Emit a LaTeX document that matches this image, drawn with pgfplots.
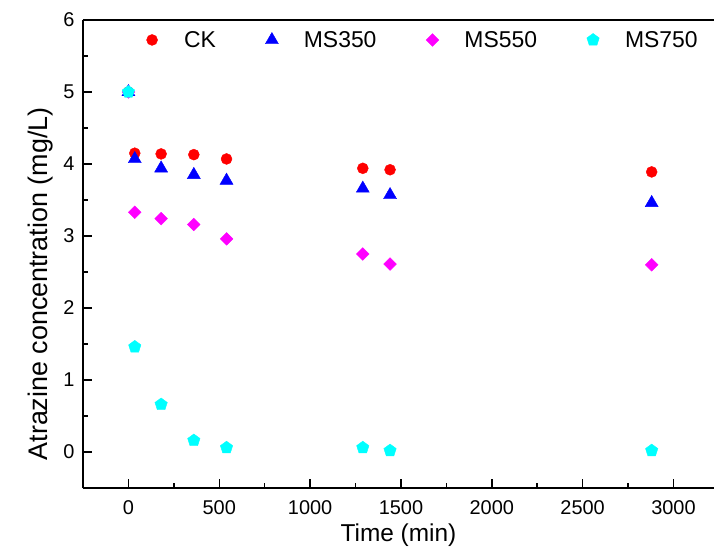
\documentclass[border=0pt]{standalone}
\usepackage{pgfplots}
\pgfplotsset{compat=1.18}
\usepackage{pgfplotstable}
\usepackage{fontspec}
\setmainfont{Liberation Sans}
\definecolor{cRed}{RGB}{255,0,0}
\definecolor{cBlue}{RGB}{0,0,255}
\definecolor{cMag}{RGB}{255,0,255}
\definecolor{cCyan}{RGB}{0,255,255}
\pgfplotstableread{
t CK MS350 MS550 MS750
0 5 5 5 5
35 4.15 4.07 3.33 1.46
180 4.14 3.94 3.24 0.66
360 4.13 3.85 3.16 0.16
540 4.07 3.77 2.96 0.06
1290 3.94 3.66 2.75 0.06
1440 3.92 3.57 2.61 0.02
2880 3.89 3.46 2.60 0.02
}\datatab
\begin{document}
\begin{tikzpicture}
\begin{axis}[
  at={(0,0)}, anchor=south west,
  scale only axis, width=631bp, height=468bp,
  xmin=-250, xmax=3223, ymin=-0.5, ymax=6,
  axis x line=box, axis y line=left,
  every outer y axis line/.append style={-},
  every outer x axis line/.append style={-},
  axis line style={line width=1.5bp, black},
  xtick={0,500,...,3000}, minor xtick={-250,250,750,1250,1750,2250,2750},
  ytick={0,1,...,6}, minor ytick={-0.5,0.5,1.5,2.5,3.5,4.5,5.5},
  xtick pos=bottom, ytick pos=left, tick align=inside,
  major tick length=9bp, minor tick length=5bp,
  every tick/.style={line width=1.5bp, black},
  /pgf/number format/assume math mode=true,
  /pgf/number format/set thousands separator={},
  tick label style={font=\fontsize{20}{24}\selectfont},
  yticklabel style={xshift=-5bp},
  xticklabel style={yshift=-9bp},
  xlabel={Time (min)},
  ylabel={Atrazine concentration (mg/L)},
  every axis y label/.style={at={(ticklabel cs:0.436)}, rotate=90, anchor=near ticklabel, yshift=3bp, font=\fontsize{27}{31}\selectfont},
  every axis x label/.style={at={(ticklabel cs:0.5)}, anchor=near ticklabel, yshift=-2bp, font=\fontsize{24.5}{28}\selectfont},
  legend columns=4,
  legend style={draw=none, fill=none, at={(rel axis cs:0.087,0.985)}, anchor=north west,
    font=\fontsize{23}{27}\selectfont,
    /tikz/every odd column/.append style={column sep=19bp},
    /tikz/every even column/.append style={column sep=43bp}},
  legend image code/.code={\path[draw=none] (0bp,0bp) -- (22bp,0bp); \draw[#1] plot[only marks] coordinates {(11bp,0bp)};},
  clip=false,
]
\addplot[only marks, mark=*, mark size=5.5bp, color=cRed] table[x=t,y=CK]{\datatab};
\addlegendentry{CK}
\addplot[only marks, mark=triangle*, mark size=7.5bp, color=cBlue] table[x=t,y=MS350]{\datatab};
\addlegendentry{MS350}
\addplot[only marks, mark=square*, mark options={rotate=45}, mark size=4.5bp, color=cMag] table[x=t,y=MS550]{\datatab};
\addlegendentry{MS550}
\addplot[only marks, mark=pentagon*, mark size=6.5bp, color=cCyan] table[x=t,y=MS750]{\datatab};
\addlegendentry{MS750}
\end{axis}
\pgfresetboundingbox
\path[use as bounding box] (-83bp,-70bp) rectangle (631bp,488bp);
\end{tikzpicture}
\end{document}
